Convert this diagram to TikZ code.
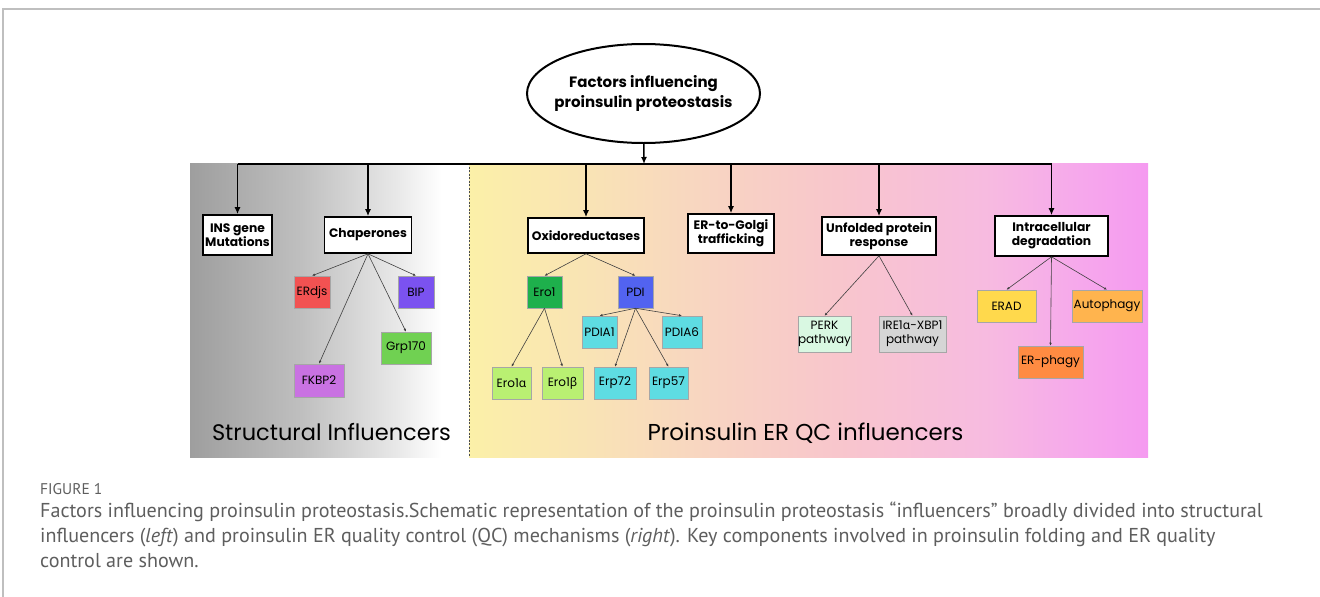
\documentclass[tikz,border=0pt]{standalone}
\usepackage{fontspec}
\setmainfont{Poppins}
\newfontfamily\greekfont{Noto Sans}
\newfontfamily\capfont{PT Sans}
\usetikzlibrary{shapes.geometric,arrows.meta}

\definecolor{capgray}{HTML}{5E5E5E}
\definecolor{cred}{HTML}{F25252}
\definecolor{cviolet}{HTML}{7B52F0}
\definecolor{cgreen}{HTML}{70D152}
\definecolor{cpurple}{HTML}{C972E2}
\definecolor{cdkgreen}{HTML}{1EB04C}
\definecolor{cblue}{HTML}{5263F0}
\definecolor{ccyan}{HTML}{5EDCE2}
\definecolor{clime}{HTML}{B9F072}
\definecolor{cmint}{HTML}{D9F8E2}
\definecolor{cgrey}{HTML}{D5D5D5}
\definecolor{cyellow}{HTML}{FFD94C}
\definecolor{corange}{HTML}{FFB44E}
\definecolor{cdkorange}{HTML}{FF8B42}
% background stops
\definecolor{bgA}{HTML}{FBF0A8}
\definecolor{bgB}{HTML}{F9E3B5}
\definecolor{bgC}{HTML}{F8D4C2}
\definecolor{bgD}{HTML}{F8C6CC}
\definecolor{bgE}{HTML}{F7BBE0}
\definecolor{bgF}{HTML}{F6A8EC}
\definecolor{bgG}{HTML}{F59AF0}

% panel backgrounds (the path box is mapped onto 25bp--75bp)
\pgfdeclarehorizontalshading{structshade}{100bp}{color(0bp)=(black!38); color(25bp)=(black!38);
  color(45bp)=(black!25); color(62bp)=(black!9); color(70bp)=(white); color(100bp)=(white)}
\pgfdeclarehorizontalshading{qcshade}{100bp}{color(0bp)=(bgA); color(25bp)=(bgA);
  color(34bp)=(bgB); color(43bp)=(bgC); color(52bp)=(bgD); color(63bp)=(bgE);
  color(70bp)=(bgF); color(75bp)=(bgG); color(100bp)=(bgG)}

\newcommand{\grkA}{{\greekfont α}}
\newcommand{\grkB}{{\greekfont β}}

\begin{document}
\begin{tikzpicture}[x=1pt,y=-1pt,
  >={Latex[length=7pt,width=6pt]},
  hbox/.style={draw,line width=1.6pt,fill=white,inner sep=0pt,align=center,
    font=\bfseries\fontsize{12.3}{14}\selectfont},
  cbox/.style={draw=black!35,line width=0.5pt,fill=#1,inner sep=0pt,align=center,
    minimum height=32pt,font=\fontsize{12}{14}\selectfont},
  link/.style={->,line width=1.5pt},
  sublink/.style={-{Latex[length=3pt,width=2.6pt]},line width=0.6pt,black!75}]

\useasboundingbox (0,0) rectangle (1320,597);
\fill[white] (0,0) rectangle (1320,597);
\draw[black!25,line width=1.2pt] (1320,9) -- (3,9) -- (3,597);

%% the two panels
\shade[shading=structshade] (190,163) rectangle (469,457);
\shade[shading=qcshade] (469,163) rectangle (1148,457);
\draw[black!70,line width=0.8pt,dash pattern=on 2pt off 1.5pt] (469,163) -- (469,457);

\node[ellipse,draw,line width=2pt,minimum width=233pt,minimum height=99pt,
  inner xsep=-25pt,inner ysep=-10pt,
  align=center,font=\bfseries\fontsize{15}{19.5}\selectfont] (title) at (643.5,93.5)
  {Factors influencing\\proinsulin proteostasis};
\coordinate (bus) at (644,164);

%% first level
\node[hbox,minimum width=69pt,minimum height=40pt] (ins) at (237.5,235) {INS gene\\Mutations};
\node[hbox,minimum width=87pt,minimum height=36pt] (chap) at (368,235) {Chaperones};
\node[hbox,minimum width=116pt,minimum height=35pt] (oxido) at (586,235.5) {Oxidoreductases};
\node[hbox,minimum width=86pt,minimum height=39pt] (golgi) at (731,233.5) {ER-to-Golgi\\trafficking};
\node[hbox,minimum width=114pt,minimum height=38pt] (upr) at (879,236) {Unfolded protein\\response};
\node[hbox,minimum width=113pt,minimum height=40pt] (degr) at (1051.5,236) {Intracellular\\degradation};

\draw[link] (title) -- (bus);
\draw[line width=1.5pt] (ins.north |- bus) -- (degr.north |- bus);
\foreach \hdr in {ins,chap,oxido,golgi,upr,degr}
  \draw[link] (\hdr.north |- bus) -- (\hdr.north);

%% chaperones
\node[cbox=cred,minimum width=36pt] (erdjs) at (312,292) {ERdjs};
\node[cbox=cviolet,minimum width=36pt] (bip) at (416,292) {BIP};
\node[cbox=cgreen,minimum width=50pt] (grp) at (406,348) {Grp170};
\node[cbox=cpurple,minimum width=50pt,minimum height=33pt] (fkbp) at (319,380.5) {FKBP2};
\foreach \child in {erdjs,bip,grp,fkbp}
  \draw[sublink] (chap.south) -- (\child.north);

%% oxidoreductases
\node[cbox=cdkgreen,minimum width=35pt] (ero) at (544.5,292) {Ero1};
\node[cbox=cblue,minimum width=35pt] (pdi) at (635.5,292) {PDI};
\node[cbox=ccyan,minimum width=35pt] (pdiaA) at (599.5,332) {PDIA1};
\node[cbox=ccyan,minimum width=40pt] (pdiaB) at (682,332) {PDIA6};
\node[cbox=clime,minimum width=39pt] (eroA) at (511.5,383) {Ero1\grkA};
\node[cbox=clime,minimum width=41pt] (eroB) at (562.5,383) {Ero1\grkB};
\node[cbox=ccyan,minimum width=42pt] (erpA) at (615,383) {Erp72};
\node[cbox=ccyan,minimum width=39pt] (erpB) at (668.5,383) {Erp57};
\foreach \child in {ero,pdi}
  \draw[sublink] (oxido.south) -- (\child.north);
\foreach \child in {eroA,eroB}
  \draw[sublink] (ero.south) -- (\child.north);
\foreach \child in {pdiaA,pdiaB,erpA,erpB}
  \draw[sublink] (pdi.south) -- (\child.north);

%% unfolded protein response
\node[cbox=cmint,minimum width=49pt,minimum height=36pt] (perk) at (824.5,334) {PERK\\pathway};
\node[cbox=cgrey,minimum width=67pt,minimum height=36pt] (ire) at (912.5,334) {IRE1\grkA-XBP1\\pathway};
\foreach \child in {perk,ire}
  \draw[sublink] (upr.south) -- (\child.north);

%% degradation
\node[cbox=cyellow,minimum width=59pt] (erad) at (1006.5,306) {ERAD};
\node[cbox=corange,minimum width=70pt] (autoph) at (1107,306) {Autophagy};
\node[cbox=cdkorange,minimum width=65pt] (erph) at (1050.5,362) {ER-phagy};
\foreach \child in {erad,autoph,erph}
  \draw[sublink] (degr.south) -- (\child.north);

\node[anchor=base,font=\fontsize{22.5}{26}\selectfont] (structlbl) at (331.5,440) {Structural Influencers};
\node[anchor=base,font=\fontsize{23}{26}\selectfont] (qclbl) at (805.5,440) {Proinsulin ER QC influencers};

%% caption
\node[anchor=base west,inner sep=0pt,text=capgray,font=\capfont\fontsize{15.5}{18}\selectfont] (figno) at (40,494) {FIGURE 1};
\node[anchor=base west,inner sep=0pt,text=capgray,font=\capfont\fontsize{20.1}{22}\selectfont] (capA) at (40,517)
  {Factors influencing proinsulin proteostasis.Schematic representation of the proinsulin proteostasis “influencers” broadly divided into structural};
\node[anchor=base west,inner sep=0pt,text=capgray,font=\capfont\fontsize{20.1}{22}\selectfont] (capB) at (40,542)
  {influencers (\emph{left}) and proinsulin ER quality control (QC) mechanisms (\emph{right}). Key components involved in proinsulin folding and ER quality};
\node[anchor=base west,inner sep=0pt,text=capgray,font=\capfont\fontsize{20.1}{22}\selectfont] (capC) at (40,567) {control are shown.};
\end{tikzpicture}
\end{document}
